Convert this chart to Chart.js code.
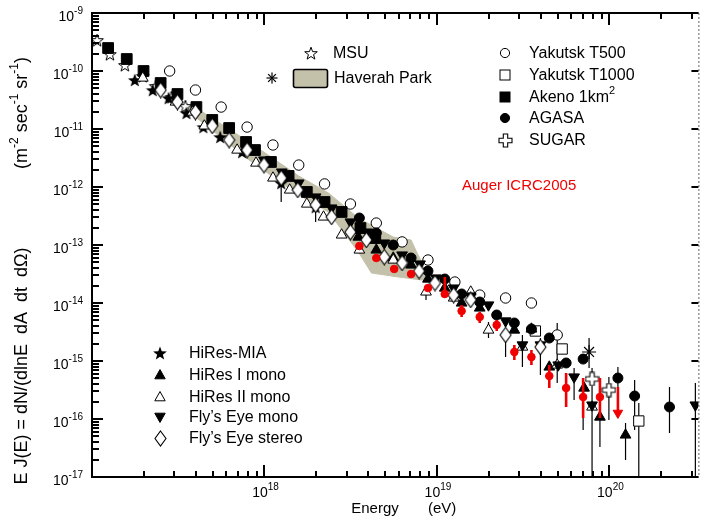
<!DOCTYPE html>
<html lang="en">
<head>
  <meta charset="UTF-8" />
  <title>Cosmic ray energy spectrum</title>
  <script src="https://cdn.jsdelivr.net/npm/chart.js"></script>
  <style>
    html, body { margin: 0; padding: 0; background: #fff; }
    .chart-wrapper { position: relative; width: 707px; height: 521px; }
  </style>
</head>
<body>
<div class="chart-wrapper"><canvas id="specChart" width="707" height="521"></canvas></div>
<script>
  // ---- data: energy (eV) and flux E J(E) ----
  const msuE = [1.07e17, 1.27e17, 1.55e17, 1.97e17, 2.34e17, 2.89e17, 3.48e17];
  const msuJ = [3.42e-10, 1.96e-10, 1.27e-10, 8.20e-11, 5.51e-11, 3.56e-11, 2.49e-11];

  const akenoE = [1.24e17, 1.59e17, 1.99e17, 2.50e17, 3.13e17, 4.03e17, 4.98e17, 6.24e17, 7.82e17, 8.81e17,
                  1.09e18, 1.38e18, 1.76e18, 2.23e18, 2.80e18, 3.60e18, 4.39e18];
  const akenoJ = [2.49e-10, 1.61e-10, 1.00e-10, 6.21e-11, 4.01e-11, 2.39e-11, 1.43e-11, 1.04e-11, 5.97e-12, 4.34e-12,
                  2.70e-12, 1.55e-12, 8.20e-13, 5.51e-13, 3.71e-13, 1.96e-13, 1.32e-13];

  const t500E = [2.82e17, 3.98e17, 5.61e17, 7.93e17, 1.12e18, 1.58e18, 2.23e18, 3.15e18, 4.45e18, 6.28e18,
                 8.87e18, 1.27e19, 1.77e19, 2.50e19, 3.53e19, 4.98e19];
  const t500J = [1.00e-10, 4.70e-11, 2.39e-11, 1.08e-11, 5.30e-12, 2.39e-12, 1.13e-12, 5.09e-13, 2.39e-13, 1.13e-13,
                 5.51e-14, 2.30e-14, 1.37e-14, 1.22e-14, 1.00e-14, 2.81e-15];

  const t1000E = [3.72e19, 5.32e19, 1.48e20];
  const t1000J = [3.29e-15, 1.61e-15, 9.24e-17];

  const agasaE = [3.55e18, 4.45e18, 5.58e18, 7.08e18, 8.87e18, 1.11e19, 1.39e19, 1.77e19, 2.22e19, 2.81e19,
                  3.53e19, 4.48e19, 5.61e19, 7.04e19, 1.12e20, 1.40e20, 2.23e20];
  const agasaJ = [2.92e-13, 1.61e-13, 1.00e-13, 5.97e-14, 3.56e-14, 2.59e-14, 1.43e-14, 1.04e-14, 6.21e-15, 4.52e-15,
                  3.56e-15, 2.49e-15, 9.24e-16, 1.08e-15, 5.09e-16, 2.49e-16, 1.61e-16];

  const sugarE = [7.93e19, 9.93e19];
  const sugarJ = [4.90e-16, 3.16e-16];

  const hpE = [7.62e19];
  const hpJ = [1.43e-15];

  // Haverah Park band outline (upper edge, then lower edge back)
  const bandE = [3.39e17, 4.19e17, 8.14e17, 1.58e18, 2.35e18, 3.50e18, 5.58e18, 7.08e18, 7.77e18, 9.11e18,
                 9.11e18, 5.96e18, 4.17e18, 3.50e18, 2.35e18, 1.58e18, 8.14e17, 4.19e17, 3.48e17];
  const bandJ = [2.92e-11, 2.13e-11, 5.97e-12, 1.55e-12, 7.88e-13, 2.92e-13, 1.37e-13, 1.22e-13, 6.72e-14, 2.70e-14,
                 2.39e-14, 2.81e-14, 3.29e-14, 7.57e-14, 3.71e-13, 7.28e-13, 2.92e-12, 1.43e-11, 2.13e-11];

  const miaE = [1.77e17, 2.25e17, 2.78e17, 3.53e17, 4.42e17, 5.54e17, 7.42e17, 1.25e18, 1.98e18];
  const miaJ = [7.00e-11, 4.70e-11, 3.42e-11, 1.89e-11, 1.08e-11, 7.28e-12, 4.01e-12, 1.17e-12, 4.52e-13];

  const hires1E = [3.50e18, 4.45e18, 5.58e18, 7.08e18, 8.87e18, 1.11e19, 1.39e19, 1.77e19, 2.81e19, 3.53e19,
                   4.48e19, 7.13e19, 8.81e19, 1.24e20];
  const hires1J = [1.37e-13, 8.20e-14, 5.97e-14, 4.52e-14, 2.59e-14, 1.81e-14, 1.00e-14, 8.20e-15, 3.42e-15, 3.56e-15,
                   7.88e-16, 3.42e-16, 1.08e-16, 5.30e-17];

  const hires2E = [1.97e17, 3.05e17, 3.82e17, 4.48e17, 6.94e17, 8.93e17, 1.12e18, 1.40e18, 1.76e18, 2.20e18,
                   2.80e18, 3.55e18, 5.58e18, 8.64e18, 1.25e19, 1.57e19, 1.99e19, 3.13e19, 4.98e19, 7.93e19];
  const hires2J = [7.57e-11, 2.92e-11, 1.96e-11, 1.13e-11, 4.34e-12, 2.59e-12, 1.43e-12, 8.88e-13, 5.09e-13, 3.04e-13,
                   1.49e-13, 8.20e-14, 5.51e-14, 1.55e-14, 1.22e-14, 1.55e-14, 3.42e-15, 1.74e-15, 8.53e-16, 1.61e-16];

  const feMonoE = [9.93e17, 1.26e18, 1.58e18, 1.98e18, 2.45e18, 3.15e18, 3.95e18, 4.95e18, 6.28e18, 7.98e18,
                   9.87e18, 1.25e19, 1.57e19, 1.99e19, 2.50e19, 3.13e19, 3.98e19, 5.05e19, 6.24e19, 7.93e19, 3.15e20];
  const feMonoJ = [2.92e-12, 1.81e-12, 1.17e-12, 6.72e-13, 4.34e-13, 2.49e-13, 1.67e-13, 1.08e-13, 6.72e-14, 4.70e-14,
                   2.70e-14, 1.81e-14, 1.32e-14, 9.24e-15, 4.90e-15, 1.89e-15, 1.89e-15, 8.53e-16, 5.30e-16, 1.74e-16, 1.74e-16];

  const feStereoE = [2.50e17, 3.13e17, 3.98e17, 4.98e17, 6.24e17, 7.93e17, 9.93e17, 1.25e18, 1.56e18, 1.98e18,
                     2.45e18, 3.15e18, 3.90e18, 4.95e18, 6.28e18, 7.88e18, 9.74e18, 1.25e19, 1.57e19, 2.50e19, 3.98e19];
  const feStereoJ = [4.70e-11, 2.92e-11, 1.96e-11, 1.13e-11, 6.46e-12, 4.34e-12, 2.39e-12, 1.43e-12, 8.88e-13, 4.90e-13,
                     3.04e-13, 1.67e-13, 1.22e-13, 6.21e-14, 4.90e-14, 3.56e-14, 2.21e-14, 1.37e-14, 1.13e-14, 2.81e-15, 1.74e-15];

  const augerE = [3.55e18, 4.45e18, 5.65e18, 7.08e18, 8.87e18, 1.11e19, 1.39e19, 1.77e19, 2.22e19, 2.81e19,
                  3.53e19, 4.48e19, 5.61e19, 7.04e19, 8.81e19];
  const augerJ = [9.61e-14, 5.97e-14, 3.86e-14, 3.16e-14, 1.81e-14, 1.43e-14, 7.28e-15, 5.74e-15, 4.18e-15, 1.43e-15,
                  1.17e-15, 5.51e-16, 3.42e-16, 2.39e-16, 2.39e-16];
  const augerLimE = [1.12e20];
  const augerLimJ = [1.27e-16];

  // vertical error bars (energy, upper flux, lower flux)
  const errE  = [1.25e18, 1.98e18, 8.64e18, 1.99e19, 2.50e19, 3.13e19, 3.98e19, 4.48e19, 4.98e19, 6.24e19, 7.04e19,
                 7.62e19, 7.93e19, 8.81e19, 9.93e19, 1.12e20, 1.24e20, 1.40e20, 1.48e20, 2.23e20, 3.15e20];
  const errHi = [1.32e-12, 5.97e-13, 1.81e-14, 4.70e-15, 3.42e-15, 2.81e-15, 2.49e-15, 9.61e-16, 4.52e-15, 7.57e-16, 4.18e-16,
                 2.49e-15, 7.57e-16, 1.43e-16, 5.30e-16, 7.88e-16, 8.53e-17, 4.70e-16, 1.89e-16, 3.56e-16, 4.18e-16];
  const errLo = [5.51e-13, 2.49e-13, 1.13e-14, 2.49e-15, 1.17e-15, 7.88e-16, 5.74e-16, 6.21e-16, 4.18e-16, 2.13e-16, 6.46e-17,
                 7.57e-16, 1.0e-17, 3.29e-17, 9.61e-17, 3.16e-16, 1.96e-17, 6.46e-17, 1.0e-17, 5.74e-17, 1.0e-17];

  const augerErrE  = [1.11e19, 1.39e19, 1.77e19, 2.22e19, 2.81e19, 3.53e19, 4.48e19, 5.61e19, 7.04e19, 8.81e19, 1.12e20];
  const augerErrHi = [2.81e-14, 9.24e-15, 7.00e-15, 5.09e-15, 1.89e-15, 1.55e-15, 8.53e-16, 6.21e-16, 5.09e-16, 5.09e-16, 3.56e-16];
  const augerErrLo = [1.22e-14, 5.74e-15, 4.52e-15, 3.29e-15, 1.04e-15, 8.53e-16, 3.42e-16, 1.61e-16, 1.04e-16, 1.04e-16, 1.27e-16];

  const xDecades = [18, 19, 20];
  const yDecades = [-9, -10, -11, -12, -13, -14, -15, -16, -17];

  // ---- drawing helpers ----
  const FONT = '"Liberation Sans", Arial, Helvetica, sans-serif';
  const BAND_COLOR = '#c4c1ab';
  const AUGER_RED = '#f00000';

  function markerCanvas(w, h, paint) {
    const c = document.createElement('canvas');
    c.width = w; c.height = h;
    paint(c.getContext('2d'), w / 2, h / 2);
    return c;
  }
  function starPath(g, cx, cy, ro, ri) {
    g.beginPath();
    for (let i = 0; i < 10; i++) {
      const r = i % 2 ? ri : ro;
      const a = -Math.PI / 2 + i * Math.PI / 5;
      const px = cx + r * Math.cos(a), py = cy + r * Math.sin(a);
      if (i) g.lineTo(px, py); else g.moveTo(px, py);
    }
    g.closePath();
  }
  const starFilled = markerCanvas(16, 16, (g, cx, cy) => {
    starPath(g, cx, cy + 0.8, 7.2, 3.0); g.fillStyle = '#000'; g.fill();
  });
  const starOpen = markerCanvas(16, 16, (g, cx, cy) => {
    starPath(g, cx, cy + 0.8, 6.6, 2.7);
    g.fillStyle = '#fff'; g.fill(); g.lineWidth = 1; g.strokeStyle = '#000'; g.stroke();
  });
  const diamondOpen = markerCanvas(13, 17, (g, cx, cy) => {
    g.beginPath(); g.moveTo(cx, 1); g.lineTo(12, cy); g.lineTo(cx, 16); g.lineTo(1, cy); g.closePath();
    g.fillStyle = '#fff'; g.fill(); g.lineWidth = 1.1; g.strokeStyle = '#000'; g.stroke();
  });
  const crossOpen = markerCanvas(15, 15, (g, cx, cy) => {
    const a = 2.2, l = 6.5;
    g.beginPath();
    g.moveTo(cx - a, cy - l); g.lineTo(cx + a, cy - l); g.lineTo(cx + a, cy - a); g.lineTo(cx + l, cy - a);
    g.lineTo(cx + l, cy + a); g.lineTo(cx + a, cy + a); g.lineTo(cx + a, cy + l); g.lineTo(cx - a, cy + l);
    g.lineTo(cx - a, cy + a); g.lineTo(cx - l, cy + a); g.lineTo(cx - l, cy - a); g.lineTo(cx - a, cy - a);
    g.closePath();
    g.fillStyle = '#fff'; g.fill(); g.lineWidth = 1.1; g.strokeStyle = '#000'; g.stroke();
  });

  const pts = (E, J) => E.map((e, i) => ({ x: e, y: J[i] }));

  function series(label, E, J, style) {
    return Object.assign({
      label: label,
      data: pts(E, J),
      showLine: false,
      borderColor: '#000',
      backgroundColor: '#000',
      borderWidth: 1,
      pointRadius: 5,
      pointHoverRadius: 5
    }, style);
  }

  function drawRich(ctx, parts, x, y, align, size) {
    const supSize = Math.round(size * 0.68);
    let total = 0;
    parts.forEach(p => { ctx.font = (p[1] ? supSize : size) + 'px ' + FONT; total += ctx.measureText(p[0]).width; });
    let cx = align === 'center' ? x - total / 2 : (align === 'right' ? x - total : x);
    ctx.textAlign = 'left';
    ctx.textBaseline = 'middle';
    parts.forEach(p => {
      ctx.font = (p[1] ? supSize : size) + 'px ' + FONT;
      ctx.fillText(p[0], cx, p[1] ? y - size * 0.42 : y);
      cx += ctx.measureText(p[0]).width;
    });
  }

  function drawBars(chart, E, hi, lo, color, width) {
    const { ctx, chartArea, scales: { x, y } } = chart;
    ctx.save();
    ctx.beginPath();
    ctx.rect(chartArea.left, chartArea.top, chartArea.right - chartArea.left, chartArea.bottom - chartArea.top);
    ctx.clip();
    ctx.strokeStyle = color;
    ctx.lineWidth = width;
    E.forEach((e, i) => {
      const px = x.getPixelForValue(e);
      ctx.beginPath();
      ctx.moveTo(px, y.getPixelForValue(hi[i]));
      ctx.lineTo(px, y.getPixelForValue(lo[i]));
      ctx.stroke();
    });
    ctx.restore();
  }

  // frame, ticks, tick labels, axis titles
  const framePlugin = {
    id: 'frame',
    afterDatasetDraw(chart, args) {
      if (args.index === chart.data.datasets.length - 1) {
        drawBars(chart, errE, errHi, errLo, '#000', 1.2);
      }
    },
    afterDatasetsDraw(chart) {
      drawBars(chart, augerErrE, augerErrHi, augerErrLo, AUGER_RED, 2.6);
      const { ctx, chartArea: a, scales: { x, y } } = chart;
      ctx.save();
      ctx.strokeStyle = '#000';
      ctx.lineWidth = 2;
      ctx.beginPath();
      ctx.moveTo(a.right, a.top); ctx.lineTo(a.left, a.top); ctx.lineTo(a.left, a.bottom); ctx.lineTo(a.right, a.bottom);
      ctx.stroke();
      ctx.setLineDash([2, 2]);
      ctx.lineWidth = 1;
      ctx.strokeStyle = '#666';
      ctx.beginPath(); ctx.moveTo(a.right + 0.5, a.top); ctx.lineTo(a.right + 0.5, a.bottom); ctx.stroke();
      ctx.setLineDash([]);
      ctx.strokeStyle = '#000';
      ctx.lineWidth = 2;
      // y ticks
      for (let d = -17; d <= -9; d++) {
        for (let m = 1; m <= 9; m++) {
          const v = m * Math.pow(10, d);
          if (v > 1.0001e-9) continue;
          const py = Math.round(y.getPixelForValue(v));
          const len = m === 1 ? 11 : 7;
          ctx.beginPath(); ctx.moveTo(a.left, py); ctx.lineTo(a.left + len, py); ctx.stroke();
          if (m === 1) { ctx.beginPath(); ctx.moveTo(a.right, py); ctx.lineTo(a.right - 7, py); ctx.stroke(); }
        }
      }
      // x ticks
      for (let d = 17; d <= 20; d++) {
        for (let m = 1; m <= 9; m++) {
          const v = m * Math.pow(10, d);
          if (v < 1e17 || v > x.max) continue;
          const px = Math.round(x.getPixelForValue(v));
          const len = m === 1 ? 12 : 6;
          ctx.beginPath(); ctx.moveTo(px, a.bottom); ctx.lineTo(px, a.bottom - len); ctx.stroke();
          ctx.beginPath(); ctx.moveTo(px, a.top); ctx.lineTo(px, a.top + len); ctx.stroke();
        }
      }
      ctx.fillStyle = '#000';
      yDecades.forEach(d => {
        const py = y.getPixelForValue(Math.pow(10, d));
        drawRich(ctx, [['10', false], [String(d), true]], a.left - 9, py + 4, 'right', 14);
      });
      xDecades.forEach(d => {
        const px = x.getPixelForValue(Math.pow(10, d));
        drawRich(ctx, [['10', false], [String(d), true]], px + 1, a.bottom + 16, 'center', 14);
      });
      drawRich(ctx, [['Energy', false]], 375, 509, 'center', 15);
      drawRich(ctx, [['(eV)', false]], 428, 509, 'left', 15);
      ctx.save();
      ctx.translate(22, 0);
      ctx.rotate(-Math.PI / 2);
      drawRich(ctx, [['E J(E) = dN/(dlnE  dA  dt  d\u03A9)', false]], -366, 0, 'center', 18);
      drawRich(ctx, [['(m', false], ['-2', true], [' sec', false], ['-1', true], [' sr', false], ['-1', true], [')', false]],
               -113, 0, 'center', 18);
      ctx.restore();
      ctx.restore();
    }
  };

  // legends drawn inside the plot
  function legendMark(ctx, kind, cx, cy) {
    ctx.save();
    ctx.lineWidth = 1;
    ctx.strokeStyle = '#000';
    ctx.fillStyle = '#000';
    if (kind === 'circleOpen' || kind === 'circleFilled') {
      ctx.beginPath(); ctx.arc(cx, cy, 4.6, 0, Math.PI * 2);
      ctx.fillStyle = kind === 'circleOpen' ? '#fff' : '#000'; ctx.fill(); ctx.stroke();
    } else if (kind === 'rectOpen' || kind === 'rectFilled') {
      ctx.fillStyle = kind === 'rectOpen' ? '#fff' : '#000';
      ctx.fillRect(cx - 5, cy - 5, 10, 10); ctx.strokeRect(cx - 5, cy - 5, 10, 10);
    } else if (kind === 'triUp' || kind === 'triUpOpen' || kind === 'triDown') {
      const dir = kind === 'triDown' ? -1 : 1;
      ctx.beginPath();
      ctx.moveTo(cx, cy - dir * 5.5); ctx.lineTo(cx + 5.2, cy + dir * 3.8); ctx.lineTo(cx - 5.2, cy + dir * 3.8); ctx.closePath();
      ctx.fillStyle = kind === 'triUpOpen' ? '#fff' : '#000'; ctx.fill(); ctx.stroke();
    } else if (kind === 'asterisk') {
      ctx.lineWidth = 1.2;
      for (let i = 0; i < 4; i++) {
        const ang = i * Math.PI / 4;
        ctx.beginPath();
        ctx.moveTo(cx - Math.cos(ang) * 5.5, cy - Math.sin(ang) * 5.5);
        ctx.lineTo(cx + Math.cos(ang) * 5.5, cy + Math.sin(ang) * 5.5);
        ctx.stroke();
      }
    } else {
      const img = { starOpen, starFilled, diamondOpen, crossOpen }[kind];
      ctx.drawImage(img, Math.round(cx - img.width / 2), Math.round(cy - img.height / 2));
    }
    ctx.restore();
  }

  const legendPlugin = {
    id: 'insideLegend',
    afterDraw(chart) {
      const ctx = chart.ctx;
      ctx.save();
      ctx.fillStyle = '#000';
      legendMark(ctx, 'starOpen', 311, 53);
      drawRich(ctx, [['MSU', false]], 333, 54, 'left', 16);
      legendMark(ctx, 'asterisk', 272, 78);
      ctx.fillStyle = BAND_COLOR;
      ctx.strokeStyle = '#000';
      ctx.lineWidth = 1.6;
      ctx.beginPath();
      ctx.roundRect(293.5, 69.5, 34, 18, 2);
      ctx.fill(); ctx.stroke();
      ctx.fillStyle = '#000';
      drawRich(ctx, [['Haverah Park', false]], 334, 79, 'left', 16);

      const rightRows = [
        ['circleOpen', [['Yakutsk T500', false]], 53],
        ['rectOpen', [['Yakutsk T1000', false]], 75],
        ['rectFilled', [['Akeno 1km', false], ['2', true]], 97],
        ['circleFilled', [['AGASA', false]], 118],
        ['crossOpen', [['SUGAR', false]], 140]
      ];
      rightRows.forEach(r => {
        legendMark(ctx, r[0], 505, r[2]);
        ctx.fillStyle = '#000';
        drawRich(ctx, r[1], 529, r[2] + 1, 'left', 16);
      });

      const leftRows = [
        ['starFilled', 'HiRes-MIA', 353],
        ['triUp', 'HiRes I mono', 375],
        ['triUpOpen', 'HiRes II mono', 397],
        ['triDown', 'Fly\u2019s Eye mono', 417],
        ['diamondOpen', 'Fly\u2019s Eye stereo', 438]
      ];
      leftRows.forEach(r => {
        legendMark(ctx, r[0], 160, r[2]);
        ctx.fillStyle = '#000';
        drawRich(ctx, [[r[1], false]], 189, r[2] + 1, 'left', 16);
      });

      ctx.fillStyle = AUGER_RED;
      drawRich(ctx, [['Auger ICRC2005', false]], 462, 186, 'left', 15);
      ctx.restore();
    }
  };

  const datasets = [
    series('Auger ICRC2005', augerE, augerJ, { pointStyle: 'circle', pointRadius: 3.8, backgroundColor: AUGER_RED, borderColor: AUGER_RED, order: 0 }),
    series('Auger limit', augerLimE, augerLimJ, { pointStyle: 'triangle', rotation: 180, pointRadius: 5.5, backgroundColor: AUGER_RED, borderColor: AUGER_RED, order: 0 }),
    series('SUGAR', sugarE, sugarJ, { pointStyle: crossOpen, order: 1 }),
    series('Haverah Park', hpE, hpJ, { pointStyle: 'star', pointRadius: 7, borderWidth: 1.2, order: 1 }),
    series("Fly's Eye stereo", feStereoE, feStereoJ, { pointStyle: diamondOpen, order: 2 }),
    series("Fly's Eye mono", feMonoE, feMonoJ, { pointStyle: 'triangle', rotation: 180, pointRadius: 6.2, order: 2 }),
    series('HiRes II mono', hires2E, hires2J, { pointStyle: 'triangle', pointRadius: 6.2, backgroundColor: '#fff', order: 2 }),
    series('HiRes I mono', hires1E, hires1J, { pointStyle: 'triangle', pointRadius: 6.2, order: 2 }),
    series('HiRes-MIA', miaE, miaJ, { pointStyle: starFilled, order: 3 }),
    series('AGASA', agasaE, agasaJ, { pointStyle: 'circle', pointRadius: 5, order: 3 }),
    series('Akeno 1km2', akenoE, akenoJ, { pointStyle: 'rect', pointRadius: 7.6, order: 4 }),
    series('Yakutsk T1000', t1000E, t1000J, { pointStyle: 'rect', pointRadius: 7.3, backgroundColor: '#fff', order: 4 }),
    series('Yakutsk T500', t500E, t500J, { pointStyle: 'circle', pointRadius: 5.2, backgroundColor: '#fff', order: 4 }),
    series('MSU', msuE, msuJ, { pointStyle: starOpen, order: 5 }),
    {
      label: 'Haverah Park band',
      data: pts(bandE, bandJ),
      showLine: true,
      fill: 'shape',
      backgroundColor: BAND_COLOR,
      borderColor: BAND_COLOR,
      borderWidth: 1,
      pointRadius: 0,
      tension: 0,
      order: 10
    }
  ];

  new Chart(document.getElementById('specChart').getContext('2d'), {
    type: 'scatter',
    data: { datasets: datasets },
    options: {
      responsive: false,
      devicePixelRatio: 1,
      animation: false,
      layout: { padding: { left: 92, top: 13, right: 5, bottom: 44 } },
      plugins: {
        legend: { display: false },
        tooltip: { enabled: false }
      },
      scales: {
        x: { type: 'logarithmic', min: 1e17, max: 3.28e20, display: false },
        y: { type: 'logarithmic', min: 1e-17, max: 1e-9, display: false }
      }
    },
    plugins: [framePlugin, legendPlugin]
  });
</script>
</body>
</html>
